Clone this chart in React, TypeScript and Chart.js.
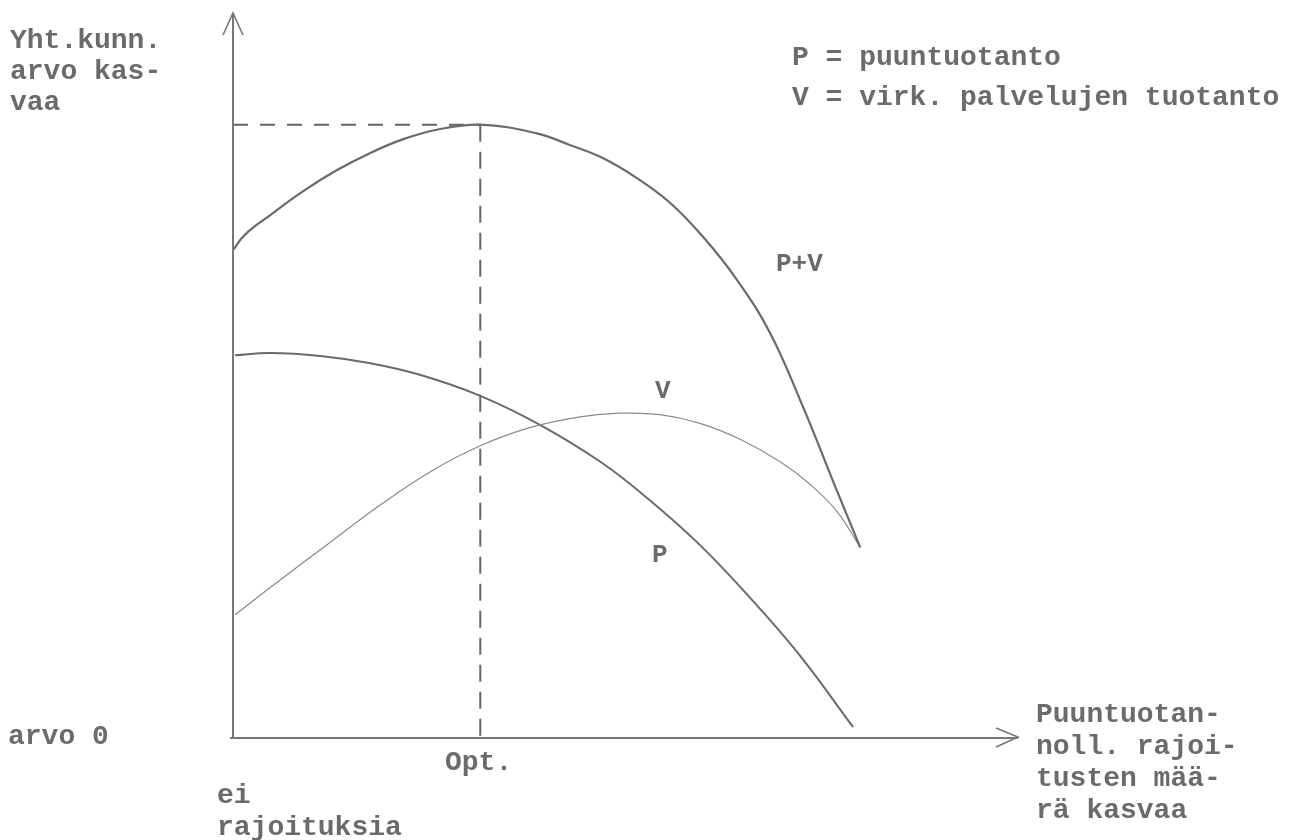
import React, { useEffect, useRef } from "react";
import { Chart, registerables } from "chart.js";

Chart.register(...registerables);

// Curve data (arbitrary 0–100 units on both axes)
const pvX = [0, 1.5, 4.7, 8.9, 13.2, 17.5, 21.7, 26.0, 31.5, 38.7, 42.9, 47.1, 51.5, 55.7, 59.9, 64.2, 68.4, 72.6, 76.9, 79.9];
const pvY = [67.3, 69.4, 72.1, 75.4, 78.3, 80.7, 82.6, 83.9, 84.6, 83.4, 81.8, 80.0, 77.2, 73.8, 69.1, 63.2, 55.9, 45.7, 34.2, 26.3];

const vX = [0.25, 6.0, 12.4, 18.7, 25.1, 31.5, 37.8, 44.2, 49.3, 54.4, 59.5, 64.6, 69.7, 73.5, 76.9, 79.9];
const vY = [17.0, 21.8, 27.0, 32.1, 36.7, 40.3, 42.8, 44.3, 44.8, 44.6, 43.4, 41.2, 38.1, 35.0, 31.3, 26.3];

const pX = [0.25, 4.7, 11.1, 17.5, 23.8, 31.5, 39.1, 46.8, 53.1, 59.5, 65.9, 72.2, 79.0];
const pY = [52.8, 53.1, 52.7, 51.7, 50.1, 47.2, 43.2, 38.1, 32.8, 26.6, 19.3, 11.4, 1.5];

const optX = 31.5;
const optY = 84.6;

const yTitle = ["Yht.kunn.", "arvo kas-", "vaa"];
const xTitle = ["Puuntuotan-", "noll. rajoi-", "tusten mää-", "rä kasvaa"];
const legendLines = ["P = puuntuotanto", "V = virk. palvelujen tuotanto"];
const zeroLabel = "arvo 0";
const optLabel = "Opt.";
const startLabel = ["ei", "rajoituksia"];
const curveLabels = ["P+V", "V", "P"];

const INK = "#6b6b6b";
const FONT = "bold 28px 'Liberation Mono', 'DejaVu Sans Mono', monospace";

const zip = (xs: number[], ys: number[]) => xs.map((x, i) => ({ x, y: ys[i] }));

const decor = {
  id: "decor",
  afterDraw(chart: any) {
    const { ctx, chartArea } = chart;
    const { left, right, top, bottom } = chartArea;
    ctx.save();
    ctx.strokeStyle = "#777";
    ctx.lineWidth = 2;
    ctx.beginPath();
    ctx.moveTo(left, bottom);
    ctx.lineTo(left, top);
    ctx.moveTo(left - 3, bottom);
    ctx.lineTo(right, bottom);
    ctx.stroke();
    ctx.lineWidth = 1.6;
    ctx.beginPath();
    ctx.moveTo(left - 10, top + 22);
    ctx.lineTo(left, top);
    ctx.lineTo(left + 10, top + 22);
    ctx.moveTo(right - 22, bottom - 10);
    ctx.lineTo(right, bottom - 1);
    ctx.lineTo(right - 22, bottom + 9);
    ctx.stroke();

    ctx.fillStyle = INK;
    ctx.font = FONT;
    ctx.textBaseline = "alphabetic";
    ctx.textAlign = "left";
    yTitle.forEach((t, i) => ctx.fillText(t, 10, 48 + i * 31));
    legendLines.forEach((t, i) => ctx.fillText(t, 792, 65 + i * 40));
    xTitle.forEach((t, i) => ctx.fillText(t, 1036, 722 + i * 32));
    ctx.fillText(zeroLabel, 8, 744);
    ctx.fillText(optLabel, 445, 770);
    startLabel.forEach((t, i) => ctx.fillText(t, 217, 803 + i * 32));
    ctx.font = "bold 26px 'Liberation Mono', 'DejaVu Sans Mono', monospace";
    ctx.fillText(curveLabels[0], 776, 271);
    ctx.fillText(curveLabels[1], 655, 398);
    ctx.fillText(curveLabels[2], 652, 562);
    ctx.restore();
  },
};

export default function App() {
  const ref = useRef<HTMLCanvasElement>(null);
  useEffect(() => {
    if (!ref.current) return;
    const line = (label: string, data: any[], color: string, width: number, extra: any = {}) => ({
      label,
      data,
      showLine: true,
      borderColor: color,
      borderWidth: width,
      pointRadius: 0,
      tension: 0.4,
      ...extra,
    });
    const chart = new Chart(ref.current, {
      type: "scatter",
      data: {
        datasets: [
          line("P+V", zip(pvX, pvY), "#6a6a6a", 2.2),
          line("V", zip(vX, vY), "#8a8a8a", 1.2),
          line("P", zip(pX, pY), "#6a6a6a", 2),
          line("opt-h", [{ x: 0, y: optY }, { x: optX, y: optY }], "#666", 2, { tension: 0, borderDash: [15, 12] }),
          line("opt-v", [{ x: optX, y: optY }, { x: optX, y: 0 }], "#666", 2, { tension: 0, borderDash: [17, 10] }),
        ],
      },
      options: {
        animation: false,
        responsive: false,
        devicePixelRatio: 1,
        layout: { padding: { left: 233, right: 279, top: 13, bottom: 102 } },
        plugins: { legend: { display: false }, tooltip: { enabled: false } },
        scales: {
          x: { type: "linear", min: 0, max: 100, display: false },
          y: { type: "linear", min: 0, max: 100, display: false },
        },
      },
      plugins: [decor],
    });
    return () => chart.destroy();
  }, []);
  return (
    <div style={{ position: "absolute", left: 0, top: 0, width: 1297, height: 840, background: "#fff" }}>
      <canvas ref={ref} width={1297} height={840} />
    </div>
  );
}
